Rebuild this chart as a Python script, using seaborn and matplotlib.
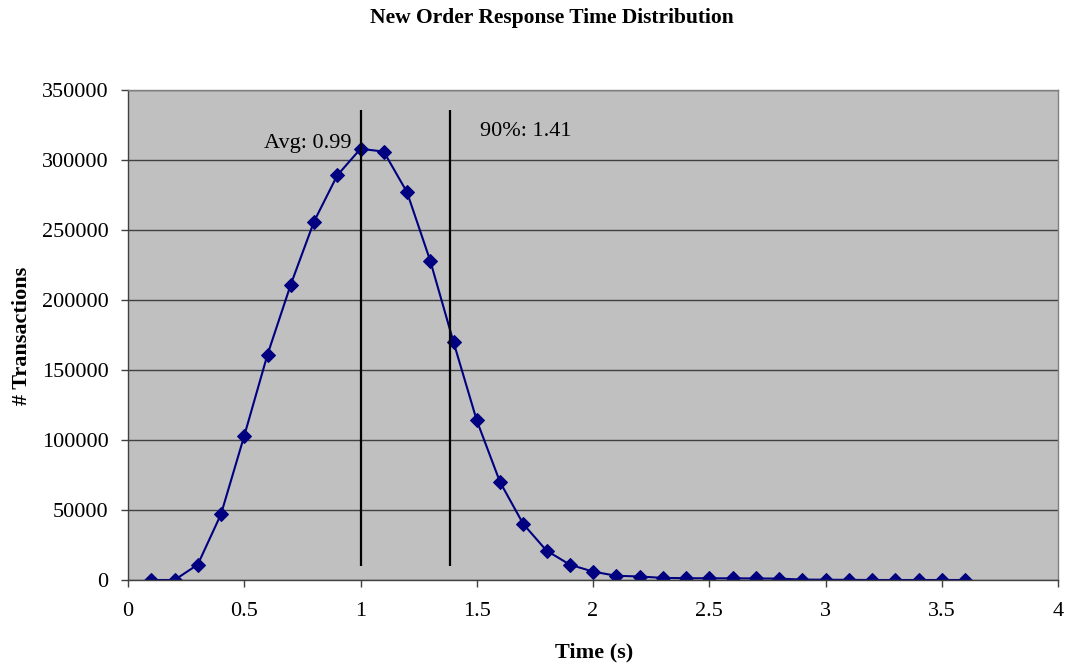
import matplotlib
matplotlib.use("Agg")
import matplotlib.pyplot as plt
import seaborn as sns
import pandas as pd

# ── Data ──────────────────────────────────────────────────────────────────────
time_s = [0.1, 0.2, 0.3, 0.4, 0.5, 0.6, 0.7, 0.8, 0.9, 1.0,
          1.1, 1.2, 1.3, 1.4, 1.5, 1.6, 1.7, 1.8, 1.9, 2.0,
          2.1, 2.2, 2.3, 2.4, 2.5, 2.6, 2.7, 2.8, 2.9, 3.0,
          3.1, 3.2, 3.3, 3.4, 3.5, 3.6]
transactions = [0, 0, 11000, 47000, 103000, 161000, 211000, 256000, 289000, 308000,
                306000, 277000, 228000, 170000, 114000, 70000, 40000, 21000, 11000, 6000,
                3000, 2500, 1500, 1300, 1200, 1200, 1100, 1000, 300, 200,
                100, 0, 0, 0, 0, 0]
marker_lines = [1.0, 1.385]
marker_labels = ["Avg: 0.99", "90%: 1.41"]
marker_span = (10000, 336000)

df = pd.DataFrame({"time": time_s, "count": transactions})

sns.set_theme(style="white")
plt.rcParams["font.family"] = ["Liberation Serif", "DejaVu Serif"]
plt.rcParams["text.color"] = "black"

fig = plt.figure(figsize=(10.68, 6.68), dpi=100)
ax = fig.add_axes([128 / 1068, 1 - 580 / 668, 930 / 1068, 490 / 668])
ax.set_facecolor("#C0C0C0")

sns.lineplot(data=df, x="time", y="count", ax=ax, color="#000080", linewidth=1.5,
             marker="D", markersize=7.5, markeredgecolor="#000080")

# Avg / 90th percentile markers
for xv in marker_lines:
    ax.vlines(xv, *marker_span, color="black", linewidth=1.6)
ax.text(0.96, 312000, marker_labels[0], ha="right", va="center", fontsize=16)
ax.text(1.515, 320000, marker_labels[1], ha="left", va="center", fontsize=16)

ax.set_xlim(0, 4)
ax.set_ylim(0, 350000)
ax.set_xticks([0, 0.5, 1, 1.5, 2, 2.5, 3, 3.5, 4])
ax.set_xticklabels(["0", "0.5", "1", "1.5", "2", "2.5", "3", "3.5", "4"])
ax.set_yticks(range(0, 350001, 50000))
ax.set_yticklabels([str(v) for v in range(0, 350001, 50000)])
ax.yaxis.grid(True, color="#404040", linewidth=1)
ax.set_axisbelow(True)
ax.tick_params(axis="both", direction="out", length=5, width=1, colors="#404040",
               labelsize=16, labelcolor="black", bottom=True, left=True)
ax.tick_params(axis="x", pad=11)
ax.tick_params(axis="y", pad=9)
for s in ax.spines.values():
    s.set_color("#808080")
    s.set_linewidth(1)
ax.spines["left"].set_color("#404040")
ax.spines["bottom"].set_color("#404040")

ax.set_xlabel("")
ax.set_ylabel("")
fig.text(594 / 1068, 1 - 652 / 668, "Time (s)", ha="center", va="center",
         fontsize=16, fontweight="bold")
fig.text(22 / 1068, 1 - 336 / 668, "# Transactions", ha="center", va="center",
         fontsize=16, fontweight="bold", rotation=90)
fig.text(552 / 1068, 1 - 18 / 668, "New Order Response Time Distribution",
         ha="center", va="center", fontsize=15.5, fontweight="bold")

fig.savefig("out.png", dpi=100, facecolor="white")
